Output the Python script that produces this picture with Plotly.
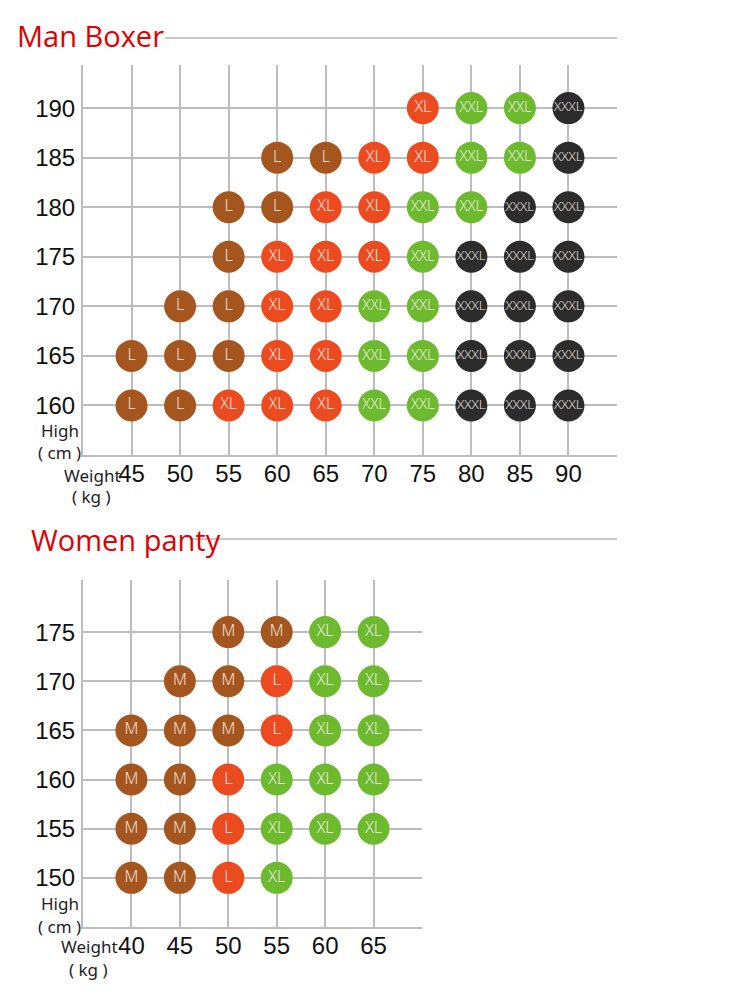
import plotly.graph_objects as go

# ---------------- data ----------------
boxer_weights = [45, 50, 55, 60, 65, 70, 75, 80, 85, 90]
boxer_heights = [190, 185, 180, 175, 170, 165, 160]
boxer_sizes = [
    ["", "", "", "", "", "", "XL", "XXL", "XXL", "XXXL"],
    ["", "", "", "L", "L", "XL", "XL", "XXL", "XXL", "XXXL"],
    ["", "", "L", "L", "XL", "XL", "XXL", "XXL", "XXXL", "XXXL"],
    ["", "", "L", "XL", "XL", "XL", "XXL", "XXXL", "XXXL", "XXXL"],
    ["", "L", "L", "XL", "XL", "XXL", "XXL", "XXXL", "XXXL", "XXXL"],
    ["L", "L", "L", "XL", "XL", "XXL", "XXL", "XXXL", "XXXL", "XXXL"],
    ["L", "L", "XL", "XL", "XL", "XXL", "XXL", "XXXL", "XXXL", "XXXL"],
]

panty_weights = [40, 45, 50, 55, 60, 65]
panty_heights = [175, 170, 165, 160, 155, 150]
panty_sizes = [
    ["", "", "M", "M", "XL", "XL"],
    ["", "M", "M", "L", "XL", "XL"],
    ["M", "M", "M", "L", "XL", "XL"],
    ["M", "M", "L", "XL", "XL", "XL"],
    ["M", "M", "L", "XL", "XL", "XL"],
    ["M", "M", "L", "XL", "", ""],
]

boxer_colors = {"L": "#A5561F", "XL": "#EB4B1F", "XXL": "#6DBA2F", "XXXL": "#2C2C2C"}
panty_colors = {"M": "#A5561F", "L": "#EB4B1F", "XL": "#6DBA2F"}
text_sizes = {"M": 16, "L": 16, "XL": 16, "XXL": 15, "XXXL": 13.5}

W, H = 750, 1007
def px(x): return x / W
def py(y): return 1 - y / H

fig = go.Figure()

def add_points(weights, heights, grid, colors, xa, ya):
    xs, ys, ts, cs, fs = [], [], [], [], []
    for hi, h in enumerate(heights):
        for wi, w in enumerate(weights):
            s = grid[hi][wi]
            if s:
                xs.append(w); ys.append(h); ts.append(s)
                cs.append(colors[s]); fs.append(text_sizes[s])
    fig.add_trace(go.Scatter(
        x=xs, y=ys, text=ts, mode="markers+text", textposition="middle center",
        marker=dict(size=32, color=cs, line=dict(width=0)),
        textfont=dict(family="Open Sans", size=fs, color="#F6EEEA", weight=300),
        xaxis=xa, yaxis=ya, hoverinfo="skip", showlegend=False, cliponaxis=False))

add_points(boxer_weights, boxer_heights, boxer_sizes, boxer_colors, "x", "y")
add_points(panty_weights, panty_heights, panty_sizes, panty_colors, "x2", "y2")

grid_c = "#BDBDBD"
tick_font = dict(family="Liberation Sans", size=24, color="#111111")

def xax(domain, rng, vals, anchor):
    return dict(domain=domain, range=rng, tickvals=vals, ticktext=[str(v) for v in vals],
                showgrid=True, gridcolor=grid_c, gridwidth=2, zeroline=False,
                showline=True, linecolor=grid_c, linewidth=2, ticks="",
                tickfont=tick_font, ticklabelstandoff=-4, anchor=anchor, fixedrange=True)

def yax(domain, rng, vals, anchor):
    return dict(domain=domain, range=rng, tickvals=vals, ticktext=[str(v) for v in vals],
                showgrid=True, gridcolor=grid_c, gridwidth=2, zeroline=False,
                showline=True, linecolor=grid_c, linewidth=2, ticks="",
                tickfont=tick_font, ticklabelstandoff=1, anchor=anchor, fixedrange=True)

fig.update_layout(
    width=W, height=H, margin=dict(l=0, r=0, t=0, b=0),
    paper_bgcolor="white", plot_bgcolor="white",
    xaxis=xax([px(83), px(617)], [40, 95.0], boxer_weights, "y"),
    yaxis=yax([py(455), py(65)], [155, 194.35], boxer_heights, "x"),
    xaxis2=xax([px(83), px(422)], [35, 70.0], panty_weights, "y2"),
    yaxis2=yax([py(927), py(580)], [145, 180.3], panty_heights, "x2"),
)

# section titles and rules
title_font = dict(family="Open Sans", size=29, color="#E00000")
fig.add_annotation(x=px(15), y=py(36), xref="paper", yref="paper", text="Man Boxer",
                   showarrow=False, xanchor="left", yanchor="middle", font=title_font)
fig.add_annotation(x=px(29), y=py(539), xref="paper", yref="paper", text="Women panty",
                   showarrow=False, xanchor="left", yanchor="middle", font=title_font)
fig.add_shape(type="line", xref="paper", yref="paper", x0=px(165), x1=px(617),
              y0=py(38), y1=py(38), line=dict(color="#C8C8C8", width=2), layer="below")
fig.add_shape(type="line", xref="paper", yref="paper", x0=px(190), x1=px(617),
              y0=py(539), y1=py(539), line=dict(color="#C8C8C8", width=2), layer="below")

# axis captions
cap_font = dict(family="Noto Sans", size=17, color="#1E1E1E")
def cap(x, y, t):
    fig.add_annotation(x=px(x), y=py(y), xref="paper", yref="paper", text=t,
                       showarrow=False, xanchor="center", yanchor="middle", font=cap_font)

cap(60, 430, "High"); cap(59, 452, "( cm )")
cap(92, 475, "Weight"); cap(91, 497, "( kg )")
cap(60, 903, "High"); cap(59, 926, "( cm )")
cap(89, 946, "Weight"); cap(88, 969, "( kg )")

fig.write_html("out.html", config={"displayModeBar": False},
               post_script="document.body.style.margin='0';")
